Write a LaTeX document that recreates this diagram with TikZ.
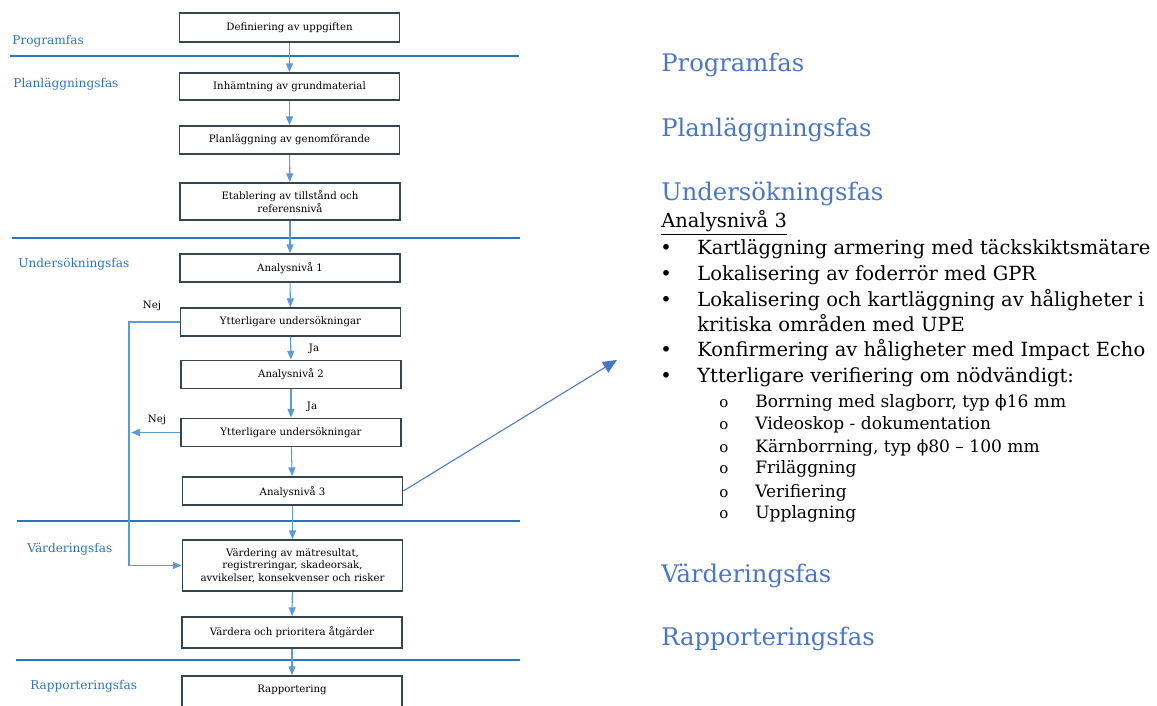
\documentclass[tikz,border=0pt]{standalone}
\usepackage{fontspec}
\setmainfont{DejaVu Serif}
\usepackage{tikz}
\usetikzlibrary{arrows.meta}

\definecolor{boxline}{HTML}{36454F}
\definecolor{flow}{HTML}{5B9BD5}
\definecolor{phase}{HTML}{2E75B6}
\definecolor{title}{HTML}{4A76C6}

\begin{document}
\begin{tikzpicture}[x=0.02cm,y=-0.02cm]
	\tikzstyle{box}=[rectangle,draw=boxline,line width=1pt,minimum width=4.4cm,minimum height=0.56cm,inner sep=1pt,align=center,font=\fontsize{5.8}{7}\selectfont]
	\tikzstyle{arr}=[draw=flow,line width=0.6pt,-{Triangle[length=5pt,width=4pt]}]
	\tikzstyle{fasline}=[draw=phase,line width=1pt]
	\tikzstyle{fas}=[anchor=base west,inner sep=0pt,text=phase,font=\fontsize{6.9}{8}\selectfont]
	\tikzstyle{svar}=[inner sep=0pt,font=\fontsize{5.8}{7}\selectfont]
	\tikzstyle{rubrik}=[anchor=base west,inner sep=0pt,text=title,font=\fontsize{13.8}{16}\selectfont]
	\tikzstyle{rad}=[anchor=base west,inner sep=0pt,font=\fontsize{11.1}{13}\selectfont]
	\tikzstyle{underrad}=[anchor=base west,inner sep=0pt,font=\fontsize{9.7}{11}\selectfont]
	\useasboundingbox (0,0) rectangle (1157,706);

	% faserna till vänster
	\draw[fasline] (10,56) -- (519,56);
	\draw[fasline] (12,238) -- (520,238);
	\draw[fasline] (17,521) -- (520,521);
	\draw[fasline] (16,660) -- (520,660);
	\node[fas] (f1) at (12,45) {Programfas};
	\node[fas] (f2) at (13,88) {Planläggningsfas};
	\node[fas] (f3) at (18,267) {Undersökningsfas};
	\node[fas] (f4) at (27,552) {Värderingsfas};
	\node[fas] (f5) at (30,689) {Rapporteringsfas};

	% flödesschemat
	\node[box,minimum height=0.58cm] (b1) at (289.5,27.5) {Definiering av uppgiften};
	\node[box,minimum height=0.54cm,text height=5pt] (b2) at (289.5,86.5) {Inhämtning av grundmaterial};
	\node[box] (b3) at (289.5,140) {Planläggning av genomförande};
	\node[box,minimum height=0.74cm] (b4) at (290,201.5) {Etablering av tillstånd och\\referensnivå};
	\node[box] (b5) at (290,268) {Analysnivå 1};
	\node[box] (b6) at (290.5,322) {Ytterligare undersökningar};
	\node[box] (b7) at (291,374.5) {Analysnivå 2};
	\node[box] (b8) at (291,432.5) {Ytterligare undersökningar};
	\node[box,text height=6pt] (b9) at (292.5,491) {Analysnivå 3};
	\node[box,minimum height=1.02cm] (b10) at (292.5,565.5) {Värdering av mätresultat,\\registreringar, skadeorsak,\\avvikelser, konsekvenser och risker};
	\node[box,minimum height=0.62cm] (b11) at (292,632.5) {Värdera och prioritera åtgärder};
	\node[box,minimum height=0.8cm,text depth=8pt] (b12) at (292,696) {Rapportering};
	\draw[arr] (b1) -- (b2);
	\draw[arr] (b2) -- (b3);
	\draw[arr] (b3) -- (b4);
	\draw[arr] (b4) -- (b5);
	\draw[arr] (b5) -- (b6);
	\draw[arr] (b6) -- (b7);
	\draw[arr] (b7) -- (b8);
	\draw[arr] (b8) -- (b9);
	\draw[arr] (b9) -- (b10);
	\draw[arr] (b10) -- (b11);
	\draw[arr] (b11) -- (b12);
	\node[svar] (ja1) at (314,349) {Ja};
	\node[svar] (ja2) at (312,407) {Ja};
	\node[svar] (nej1) at (152,306) {Nej};
	\node[svar] (nej2) at (157,420) {Nej};
	\draw[arr] (b6.west) -- (129,322) |- (b10.west);
	\coordinate (n2) at (131,432.5);
	\draw[arr] (b8.west) -- (n2);

	% utdrag för analysnivå 3
	\coordinate (ut) at (617,360);
	\draw[draw=title,line width=0.6pt,-{Triangle[length=8pt,width=7pt]}] (b9.east) -- (ut);
	\node[rubrik] (r1) at (661,72) {Programfas};
	\node[rubrik] (r2) at (661,137) {Planläggningsfas};
	\node[rubrik] (r3) at (661,200) {Undersökningsfas};
	\node[rad] (a3) at (661,228) {\underline{Analysnivå 3}};
	\node[rad] (p1) at (697,255) {Kartläggning armering med täckskiktsmätare};
	\node[rad] (p2) at (697,280) {Lokalisering av foderrör med GPR};
	\node[rad] (p3) at (697,306) {Lokalisering och kartläggning av håligheter i};
	\node[rad] (p3b) at (697,331) {kritiska områden med UPE};
	\node[rad] (p4) at (697,356) {Konfirmering av håligheter med Impact Echo};
	\node[rad] (p5) at (697,382) {Ytterligare verifiering om nödvändigt:};
	\foreach \y in {255,280,306,356,382}
		\node[rad] at (660,\y) {•};
	\node[underrad] (s1) at (755,407) {Borrning med slagborr, typ ϕ16 mm};
	\node[underrad] (s2) at (755,429) {Videoskop - dokumentation};
	\node[underrad] (s3) at (755,452) {Kärnborrning, typ ϕ80 – 100 mm};
	\node[underrad] (s4) at (755,473) {Friläggning};
	\node[underrad] (s5) at (755,497) {Verifiering};
	\node[underrad] (s6) at (755,518) {Upplagning};
	\foreach \y in {407,429,452,473,497,518}
		\node[underrad,font=\fontsize{8.5}{10}\selectfont] at (719,\y) {o};
	\node[rubrik] (r4) at (661,582) {Värderingsfas};
	\node[rubrik] (r5) at (661,645) {Rapporteringsfas};
\end{tikzpicture}
\end{document}
